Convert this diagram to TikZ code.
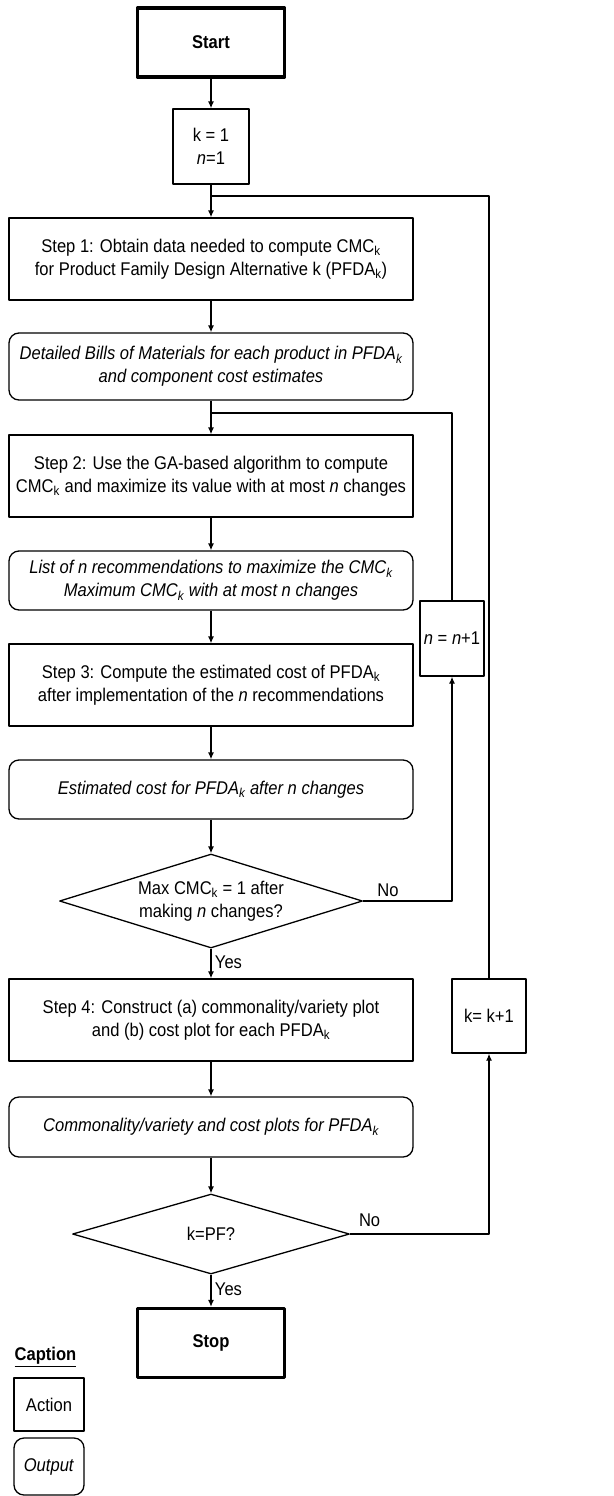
\documentclass[tikz,border=0pt]{standalone}
\usepackage{fontspec}
\setmainfont{Liberation Sans}[FakeStretch=0.9]
\usepackage{tikz}
\usetikzlibrary{arrows.meta,shapes.geometric,positioning}
\newlength{\lw}
\setlength{\lw}{1.3pt}
\newcommand{\chartfont}{\fontsize{18.4pt}{23pt}\selectfont}
\tikzstyle{every picture}+=[>={Latex[length=7pt,width=6pt]}]
\tikzstyle{every picture}+=[line width=\lw]
\tikzstyle{every picture}+=[join=round]
\tikzstyle{every node}+=[font=\chartfont]
\tikzstyle{terminal}=[draw, line width=3.3pt, minimum width=147pt, minimum height=69pt]
\tikzstyle{terminal}+=[font=\chartfont\bfseries]
\tikzstyle{action}=[draw, align=center, inner sep=0pt]
\tikzstyle{action}+=[minimum width=404pt, minimum height=82pt]
\tikzstyle{output}=[draw, align=center, inner sep=0pt, rounded corners=10pt]
\tikzstyle{output}+=[minimum width=404pt, minimum height=59pt]
\tikzstyle{output}+=[font=\chartfont\itshape]
\tikzstyle{decision}=[draw, diamond, aspect=3.2, inner sep=0pt, align=center]
\tikzstyle{counter}=[draw, align=center, inner sep=0pt, minimum height=75pt]
\tikzstyle{invis}=[coordinate]

\begin{document}
\begin{tikzpicture}
\useasboundingbox (0,0) rectangle (613pt,-1496pt);

\node[terminal] (start) at (211pt,-42.5pt) {Start};
\node[counter, minimum width=76pt] (kset) [below of=start, node distance=104pt] {k = 1\\\textit{n}=1};
\node[action] (step1) [below of=kset, node distance=112.5pt]
  {Step 1: Obtain data needed to compute CMC\textsubscript{k}\\for Product Family Design Alternative k (PFDA\textsubscript{k})};
\node[output, minimum height=67pt] (bom) [below of=step1, node distance=107.5pt]
  {Detailed Bills of Materials for each product in PFDA\textsubscript{k}\\and component cost estimates};
\node[action] (step2) [below of=bom, node distance=109.5pt]
  {Step 2: Use the GA-based algorithm to compute\\CMC\textsubscript{k} and maximize its value with at most \textit{n} changes};
\node[output] (list) [below of=step2, node distance=104.5pt]
  {List of n recommendations to maximize the CMC\textsubscript{k}\\Maximum CMC\textsubscript{k} with at most n changes};
\node[action] (step3) [below of=list, node distance=104.5pt]
  {Step 3: Compute the estimated cost of PFDA\textsubscript{k}\\after implementation of the \textit{n} recommendations};
\node[output] (est) [below of=step3, node distance=104.5pt]
  {Estimated cost for PFDA\textsubscript{k} after n changes};
\node[decision, minimum width=303pt, minimum height=94pt] (maxcmc) [below of=est, node distance=111.5pt]
  {Max CMC\textsubscript{k} = 1 after\\making \textit{n} changes?};
\node[action] (step4) [below of=maxcmc, node distance=119pt]
  {Step 4: Construct (a) commonality/variety plot\\and (b) cost plot for each PFDA\textsubscript{k}};
\node[output, minimum height=60pt] (plots) [below of=step4, node distance=107pt]
  {Commonality/variety and cost plots for PFDA\textsubscript{k}};
\node[decision, minimum width=277pt, minimum height=80pt] (lastpf) [below of=plots, node distance=107pt] {k=PF?};
\node[terminal] (stop) [below of=lastpf, node distance=109pt] {Stop};

% loop counters on the right
\node[counter, minimum width=64pt] (ninc) [right of=step3, node distance=241pt, yshift=46.5pt]
  {\textit{n} = \textit{n}+1};
\node[counter, minimum width=74pt, minimum height=74pt] (kinc) [right of=step4, node distance=278pt, yshift=4pt]
  {k= k+1};
\node[invis] (kjoin) [below of=kset, node distance=49.5pt] {};
\node[invis] (njoin) [below of=bom, node distance=46.5pt] {};

\path[->]
   (start) edge (kset)
   (kset) edge (step1)
   (step1) edge (bom)
   (bom) edge (step2)
   (step2) edge (list)
   (list) edge (step3)
   (step3) edge (est)
   (est) edge (maxcmc)
   (maxcmc) edge node[right, pos=0.45] {Yes} (step4)
   (step4) edge (plots)
   (plots) edge (lastpf)
   (lastpf) edge node[right, pos=0.45] {Yes} (stop)
;
\draw[->] (maxcmc.east) -| node[above, pos=0.14] {No} (ninc.south);
\draw (ninc.north) |- (njoin);
\draw[->] (lastpf.east) -| node[above, pos=0.07, yshift=3pt] {No} (kinc.south);
\draw (kinc.north) |- (kjoin);

% legend
\node (caption) at (45.5pt,-1357pt) {\underline{\textbf{Caption}}};
\node[counter, minimum width=70pt, minimum height=53pt] (legact) [below of=caption, node distance=47.5pt, xshift=3.5pt] {Action};
\node[counter, minimum width=70pt, minimum height=57pt, rounded corners=10pt] (legout) [below of=legact, node distance=62pt] {\textit{Output}};
\end{tikzpicture}
\end{document}
